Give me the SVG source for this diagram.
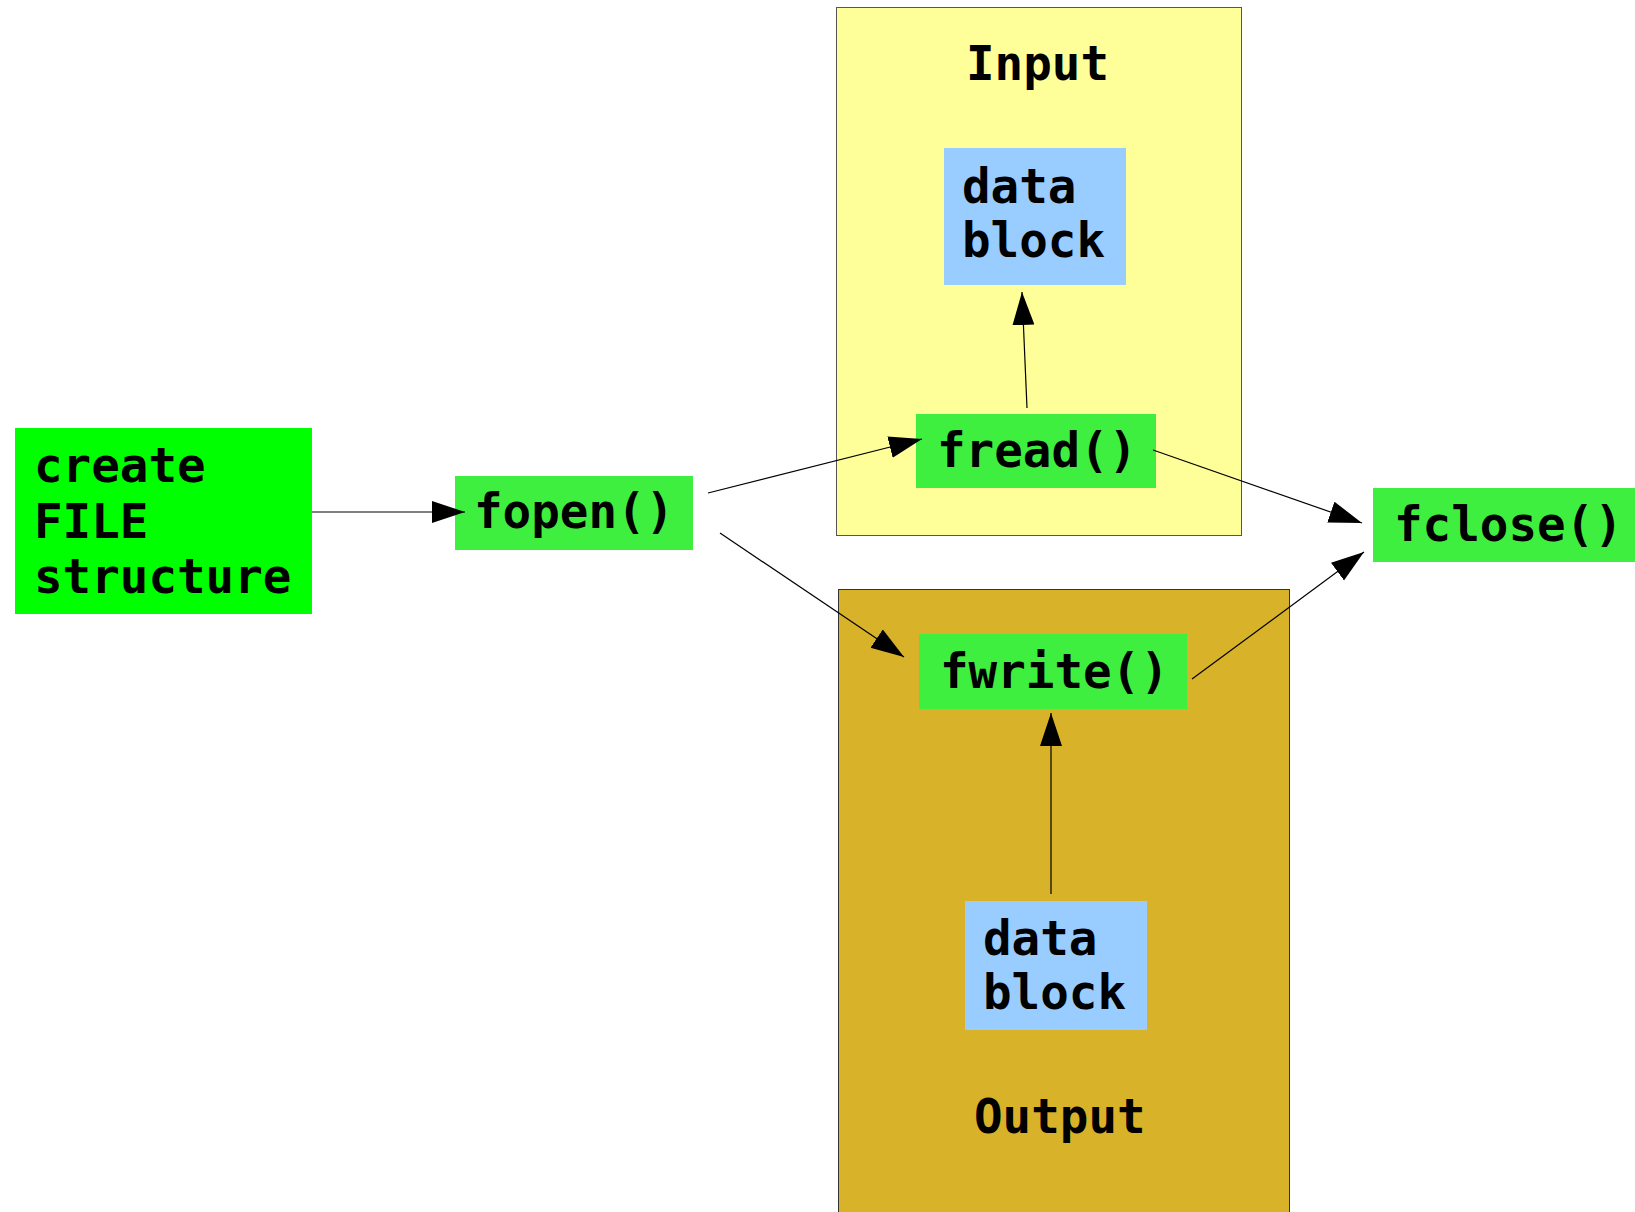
<svg xmlns="http://www.w3.org/2000/svg" width="1635" height="1212" viewBox="0 0 1635 1212">
<style>
text{font-family:"DejaVu Sans Mono","Liberation Mono",monospace;font-weight:bold;font-size:47.5px;fill:#000}
.fn{fill:#3fef3f}
.db{fill:#99ccff}
.conn line{stroke:#000;stroke-width:1.2;marker-end:url(#ah)}
</style>
<defs>
<marker id="ah" markerUnits="userSpaceOnUse" markerWidth="35" markerHeight="24" refX="33" refY="11" orient="auto">
<path d="M0,0 L33,11 L0,22 z" fill="#000"/>
</marker>
</defs>
<rect width="1635" height="1212" fill="#fff"/>
<g id="input-group">
<rect x="836.5" y="7.5" width="405" height="528" fill="#ffff99" stroke="#555" stroke-width="1"/>
<text x="966" y="80">Input</text>
</g>
<g id="output-group">
<rect x="838.5" y="589.5" width="451" height="640" fill="#d8b228" stroke="#333" stroke-width="1"/>
<text x="974" y="1133">Output</text>
</g>
<g id="create">
<rect x="15" y="428" width="297" height="186" fill="#00ff00"/>
<text x="34" y="482">create</text>
<text x="34" y="538">FILE</text>
<text x="34" y="593">structure</text>
</g>
<g id="fopen">
<rect class="fn" x="455" y="476" width="238" height="74"/>
<text x="474" y="528">fopen()</text>
</g>
<g id="fread">
<rect class="fn" x="916" y="414" width="240" height="74"/>
<text x="937" y="467">fread()</text>
</g>
<g id="fwrite">
<rect class="fn" x="919" y="634" width="268" height="75"/>
<text x="940" y="688">fwrite()</text>
</g>
<g id="fclose">
<rect class="fn" x="1373" y="488" width="262" height="74"/>
<text x="1394" y="541">fclose()</text>
</g>
<g id="input-data">
<rect class="db" x="944" y="148" width="182" height="137"/>
<text x="962" y="203">data</text>
<text x="962" y="257">block</text>
</g>
<g id="output-data">
<rect class="db" x="965" y="901" width="182" height="129"/>
<text x="983" y="955">data</text>
<text x="983" y="1009">block</text>
</g>
<g id="connectors" class="conn">
<line x1="312" y1="512" x2="465" y2="512"/>
<line x1="708" y1="493" x2="922" y2="439"/>
<line x1="720" y1="533" x2="904" y2="657"/>
<line x1="1027" y1="408" x2="1022" y2="292"/>
<line x1="1051" y1="894" x2="1051" y2="713"/>
<line x1="1153" y1="450" x2="1362" y2="523"/>
<line x1="1192" y1="679" x2="1364" y2="552"/>
</g>
</svg>
